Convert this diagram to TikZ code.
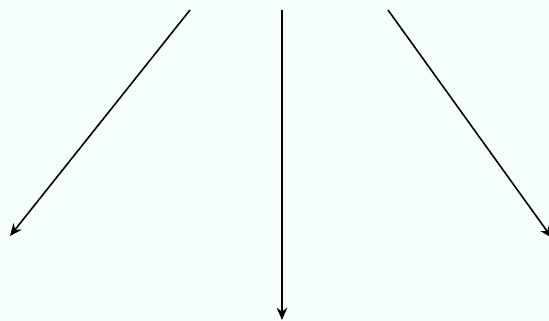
\documentclass[tikz,border=0pt]{standalone}
\usepackage{xcolor}
\definecolor{PaleSky}{HTML}{F6FEFE}
\usepackage{tikz}
\usetikzlibrary{arrows.meta}

\begin{document}
\begin{tikzpicture}[
  x=0.02cm, y=-0.02cm,
  link/.style={draw=black, line width=0.9pt, -{Stealth[length=7pt, width=6pt]}},
]
\fill[PaleSky] (0,0) rectangle (549,321);
\useasboundingbox (0,0) rectangle (549,321);
% start points along the top
\coordinate (srcL) at (190,10);
\coordinate (srcM) at (282,10);
\coordinate (srcR) at (388,10);
% end points
\coordinate (dstL) at (10,236);
\coordinate (dstM) at (282,320);
\coordinate (dstR) at (552,238);

\begin{scope}
\clip (0,0) rectangle (549,321);
\draw[link] (srcL) -- (dstL);
\draw[link] (srcM) -- (dstM);
\draw[link] (srcR) -- (dstR);
\end{scope}
\end{tikzpicture}
\end{document}
